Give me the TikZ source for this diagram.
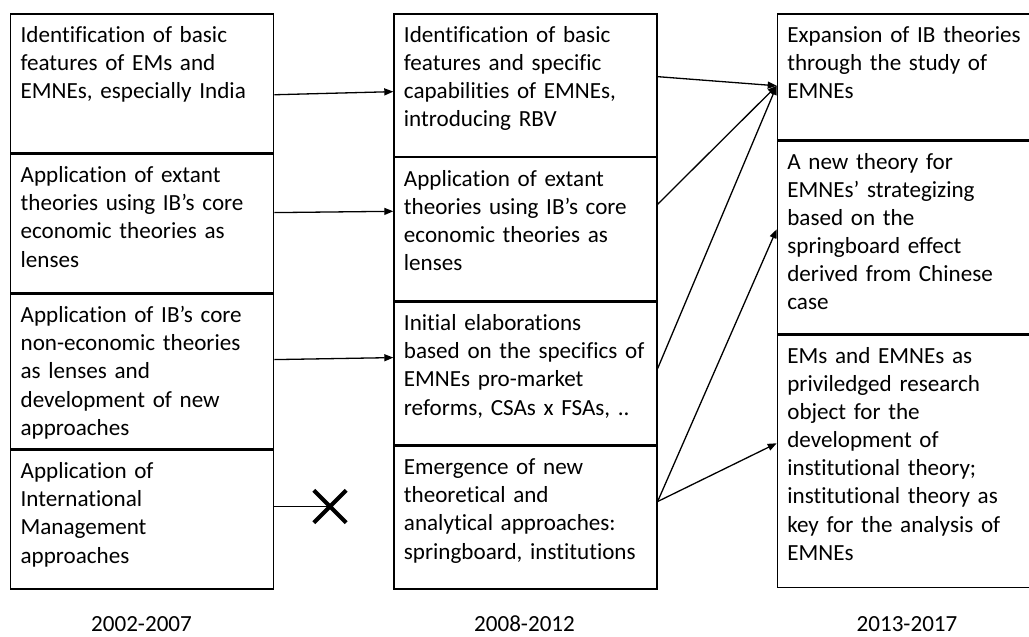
\documentclass[tikz,border=0pt]{standalone}
\usepackage{fontspec}
\setmainfont{Carlito}[Ligatures=NoCommon]
\usetikzlibrary{positioning,arrows.meta}
\newcommand{\boxfont}{\fontsize{23.1pt}{28.1pt}\selectfont}

\begin{document}
\begin{tikzpicture}[x=1pt, y=-1pt, line width=1.3pt, >={Triangle[length=9pt,width=7pt]},
		cell/.style={draw, align=left, text width=243pt, inner xsep=10pt, inner ysep=0pt, text height=28.5pt, text depth=#1, font=\boxfont},
		year/.style={anchor=base, font=\boxfont}]
			\useasboundingbox (0,0) rectangle (1029,637);
			\node[cell=110.5pt, anchor=north west] (l1) at (10,13.3) {Identification of basic\\features of EMs and\\EMNEs, especially India};
			\node[cell=110.2pt, below=0pt of l1] (l2) {Application of extant\\theories using IB’s core\\economic theories as\\lenses};
			\node[cell=126.2pt, below=0pt of l2] (l3) {Application of IB’s core\\non-economic theories\\as lenses and\\development of new\\approaches};
			\node[cell=110.1pt, below=0pt of l3] (l4) {Application of\\International\\Management\\approaches};
			\node[cell=113.9pt, anchor=north west] (m1) at (393.3,13.3) {Identification of basic\\features and specific\\capabilities of EMNEs,\\introducing RBV};
			\node[cell=114.8pt, below=0pt of m1] (m2) {Application of extant\\theories using IB’s core\\economic theories as\\lenses};
			\node[cell=114.2pt, below=0pt of m2] (m3) {Initial elaborations\\based on the specifics of\\EMNEs pro-market\\reforms, CSAs x FSAs, ..};
			\node[cell=114.1pt, below=0pt of m3] (m4) {Emergence of new\\theoretical and\\analytical approaches:\\springboard, institutions};
			\node[cell=97.2pt, anchor=north west] (r1) at (776.7,13.3) {Expansion of IB theories\\through the study of\\EMNEs};
			\node[cell=164.2pt, below=0pt of r1] (r2) {A new theory for\\EMNEs’ strategizing\\based on the\\springboard effect\\derived from Chinese\\case};
			\node[cell=224.1pt, below=0pt of r2] (r3) {EMs and EMNEs as\\priviledged research\\object for the\\development of\\institutional theory;\\institutional theory as\\key for the analysis of\\EMNEs};
			\node[year] (y1) at (141.5,631) {2002-2007};
			\node[year] (y2) at (524.5,631) {2008-2012};
			\node[year] (y3) at (907,631) {2013-2017};
			\node[minimum size=31pt, inner sep=0pt] (stop) at (330,506.5) {};
			\draw[line width=4pt] (stop.north west) -- (stop.south east) (stop.north east) -- (stop.south west);
			\coordinate (hit) at ([yshift=-9pt]r1.west);
			\draw[->] ([yshift=-11.3pt]l1.east) -- ([yshift=-6.5pt]m1.west);
			\draw[->] ([yshift=11pt]l2.east) -- ([yshift=18pt]m2.west);
			\draw[->] ([yshift=12pt]l3.east) -- ([yshift=16pt]m3.west);
			\draw (l4.east |- stop.center) -- (stop.center);
			\draw[->] ([yshift=8.5pt]m1.east) -- (hit);
			\draw[->] ([yshift=25pt]m2.east) -- (hit);
			\draw[->] ([yshift=5pt]m3.east) -- (hit);
			\draw[->] ([yshift=16pt]m4.east) -- ([yshift=8pt]r2.west);
			\draw[->] ([yshift=16pt]m4.east) -- ([yshift=18pt]r3.west);
		\end{tikzpicture}
\end{document}
